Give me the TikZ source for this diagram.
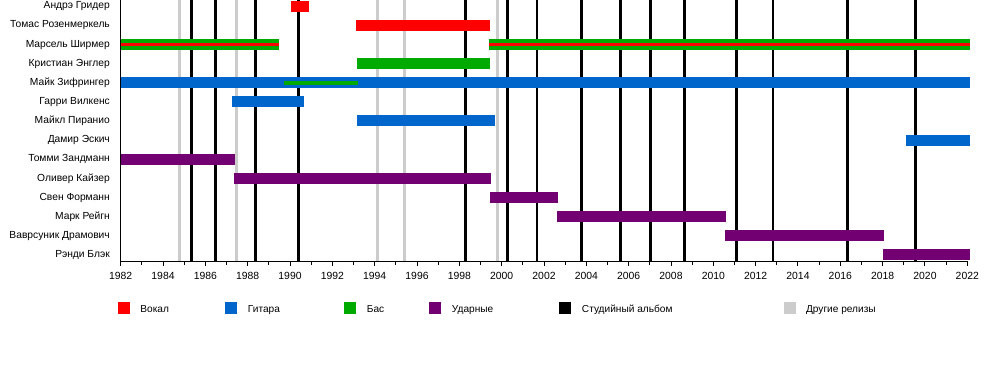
\documentclass[tikz,border=0pt]{standalone}
\usepackage{fontspec}
\setmainfont{Liberation Sans}

\definecolor{vocalred}{RGB}{255,0,0}
\definecolor{guitarblue}{RGB}{0,102,204}
\definecolor{bassgreen}{RGB}{0,170,0}
\definecolor{drumpurple}{RGB}{115,0,115}
\definecolor{releasegrey}{RGB}{204,204,204}

\tikzset{
  rowlabel/.style={anchor=east, inner sep=0pt, text height=5.3pt, text depth=1.5pt,
    font=\fontsize{7.3}{8}\selectfont},
  yearlabel/.style={inner sep=0pt, font=\fontsize{7.4}{8}\selectfont},
  legbox/.style={draw=none, minimum size=0.3cm, inner sep=0pt},
  legtext/.style={anchor=west, inner sep=0pt, text height=5.3pt, text depth=1.5pt,
    font=\fontsize{7.2}{8}\selectfont},
  albumline/.style={line width=2.1pt, black},
  otherline/.style={line width=2.1pt, releasegrey},
  axisline/.style={line width=0.7pt, black}
}

\begin{document}
\begin{tikzpicture}[x=0.52913cm, y=-0.4785cm]
	\useasboundingbox (-5.703,-0.319) rectangle (41.545,19.53);
	% releases
	\foreach \t in {1984.77,1987.48,1994.12,1995.40,1999.79}
		\draw[otherline] ({\t-1982},-0.319) -- ({\t-1982},13.34);
	\foreach \t in {1985.34,1986.47,1988.36,1990.38,1998.30,2000.27,2001.67,2003.78,
		2005.60,2007.01,2008.63,2011.09,2012.82,2016.33,2019.54}
		\draw[albumline] ({\t-1982},-0.319) -- ({\t-1982},13.34);
	% members
	\foreach \name [count=\i from 0] in {Андрэ Гридер, Томас Розенмеркель, Марсель Ширмер,
		Кристиан Энглер, Майк Зифрингер, Гарри Вилкенс, Майкл Пиранио, Дамир Эскич,
		Томми Зандманн, Оливер Кайзер, Свен Форманн, Марк Рейгн, Ваврсуник Драмович, Рэнди Блэк}
		\node[rowlabel] (row\i) at (-0.5,\i) {\name};
	% bars
	\foreach \a/\b/\r/\c in {1990.05/1990.90/0/vocalred, 1993.12/1999.45/1/vocalred,
		1982/1989.48/2/bassgreen, 1999.40/2022.14/2/bassgreen, 1993.16/1999.45/3/bassgreen,
		1982/2022.14/4/guitarblue, 1987.27/1990.66/5/guitarblue, 1993.16/1999.69/6/guitarblue,
		2019.10/2022.14/7/guitarblue, 1982/1987.40/8/drumpurple, 1987.35/1999.48/9/drumpurple,
		1999.45/2002.65/10/drumpurple, 2002.61/2010.59/11/drumpurple,
		2010.55/2018.05/12/drumpurple, 2018.02/2022.14/13/drumpurple}
		\fill[\c] ({\a-1982},{\r-0.287}) rectangle ({\b-1982},{\r+0.287});
	\foreach \a/\b in {1982/1989.48, 1999.40/2022.14}
		\fill[vocalred] ({\a-1982},-0.078+2) rectangle ({\b-1982},0.078+2);
	\fill[bassgreen] ({1989.72-1982},3.895) rectangle ({1993.20-1982},4.105);
	% axes
	\draw[axisline] (0,-0.319) -- (0,13.34) -- (40,13.34);
	\foreach \y in {0,2,...,40}
		\draw[axisline] (\y,13.34) -- (\y,13.6);
	\foreach \y in {1,3,...,39}
		\draw[axisline] (\y,13.34) -- (\y,13.5);
	\foreach \y in {1982,1984,...,2022}
		\node[yearlabel] (yr\y) at ({\y-1982},14.08) {\y};
	% legend
	\foreach \c/\t/\x [count=\k] in {vocalred/Вокал/0.15, guitarblue/Гитара/5.23,
		bassgreen/Бас/10.85, drumpurple/Ударные/14.87, black/Студийный альбом/21.01,
		releasegrey/Другие релизы/31.6}
	{
		\node[legbox, fill=\c] (key\k) at (\x,15.78) {};
		\node[legtext] (keytext\k) at ([xshift=0.25cm, yshift=-0.03cm]key\k.east) {\t};
	}
\end{tikzpicture}
\end{document}
